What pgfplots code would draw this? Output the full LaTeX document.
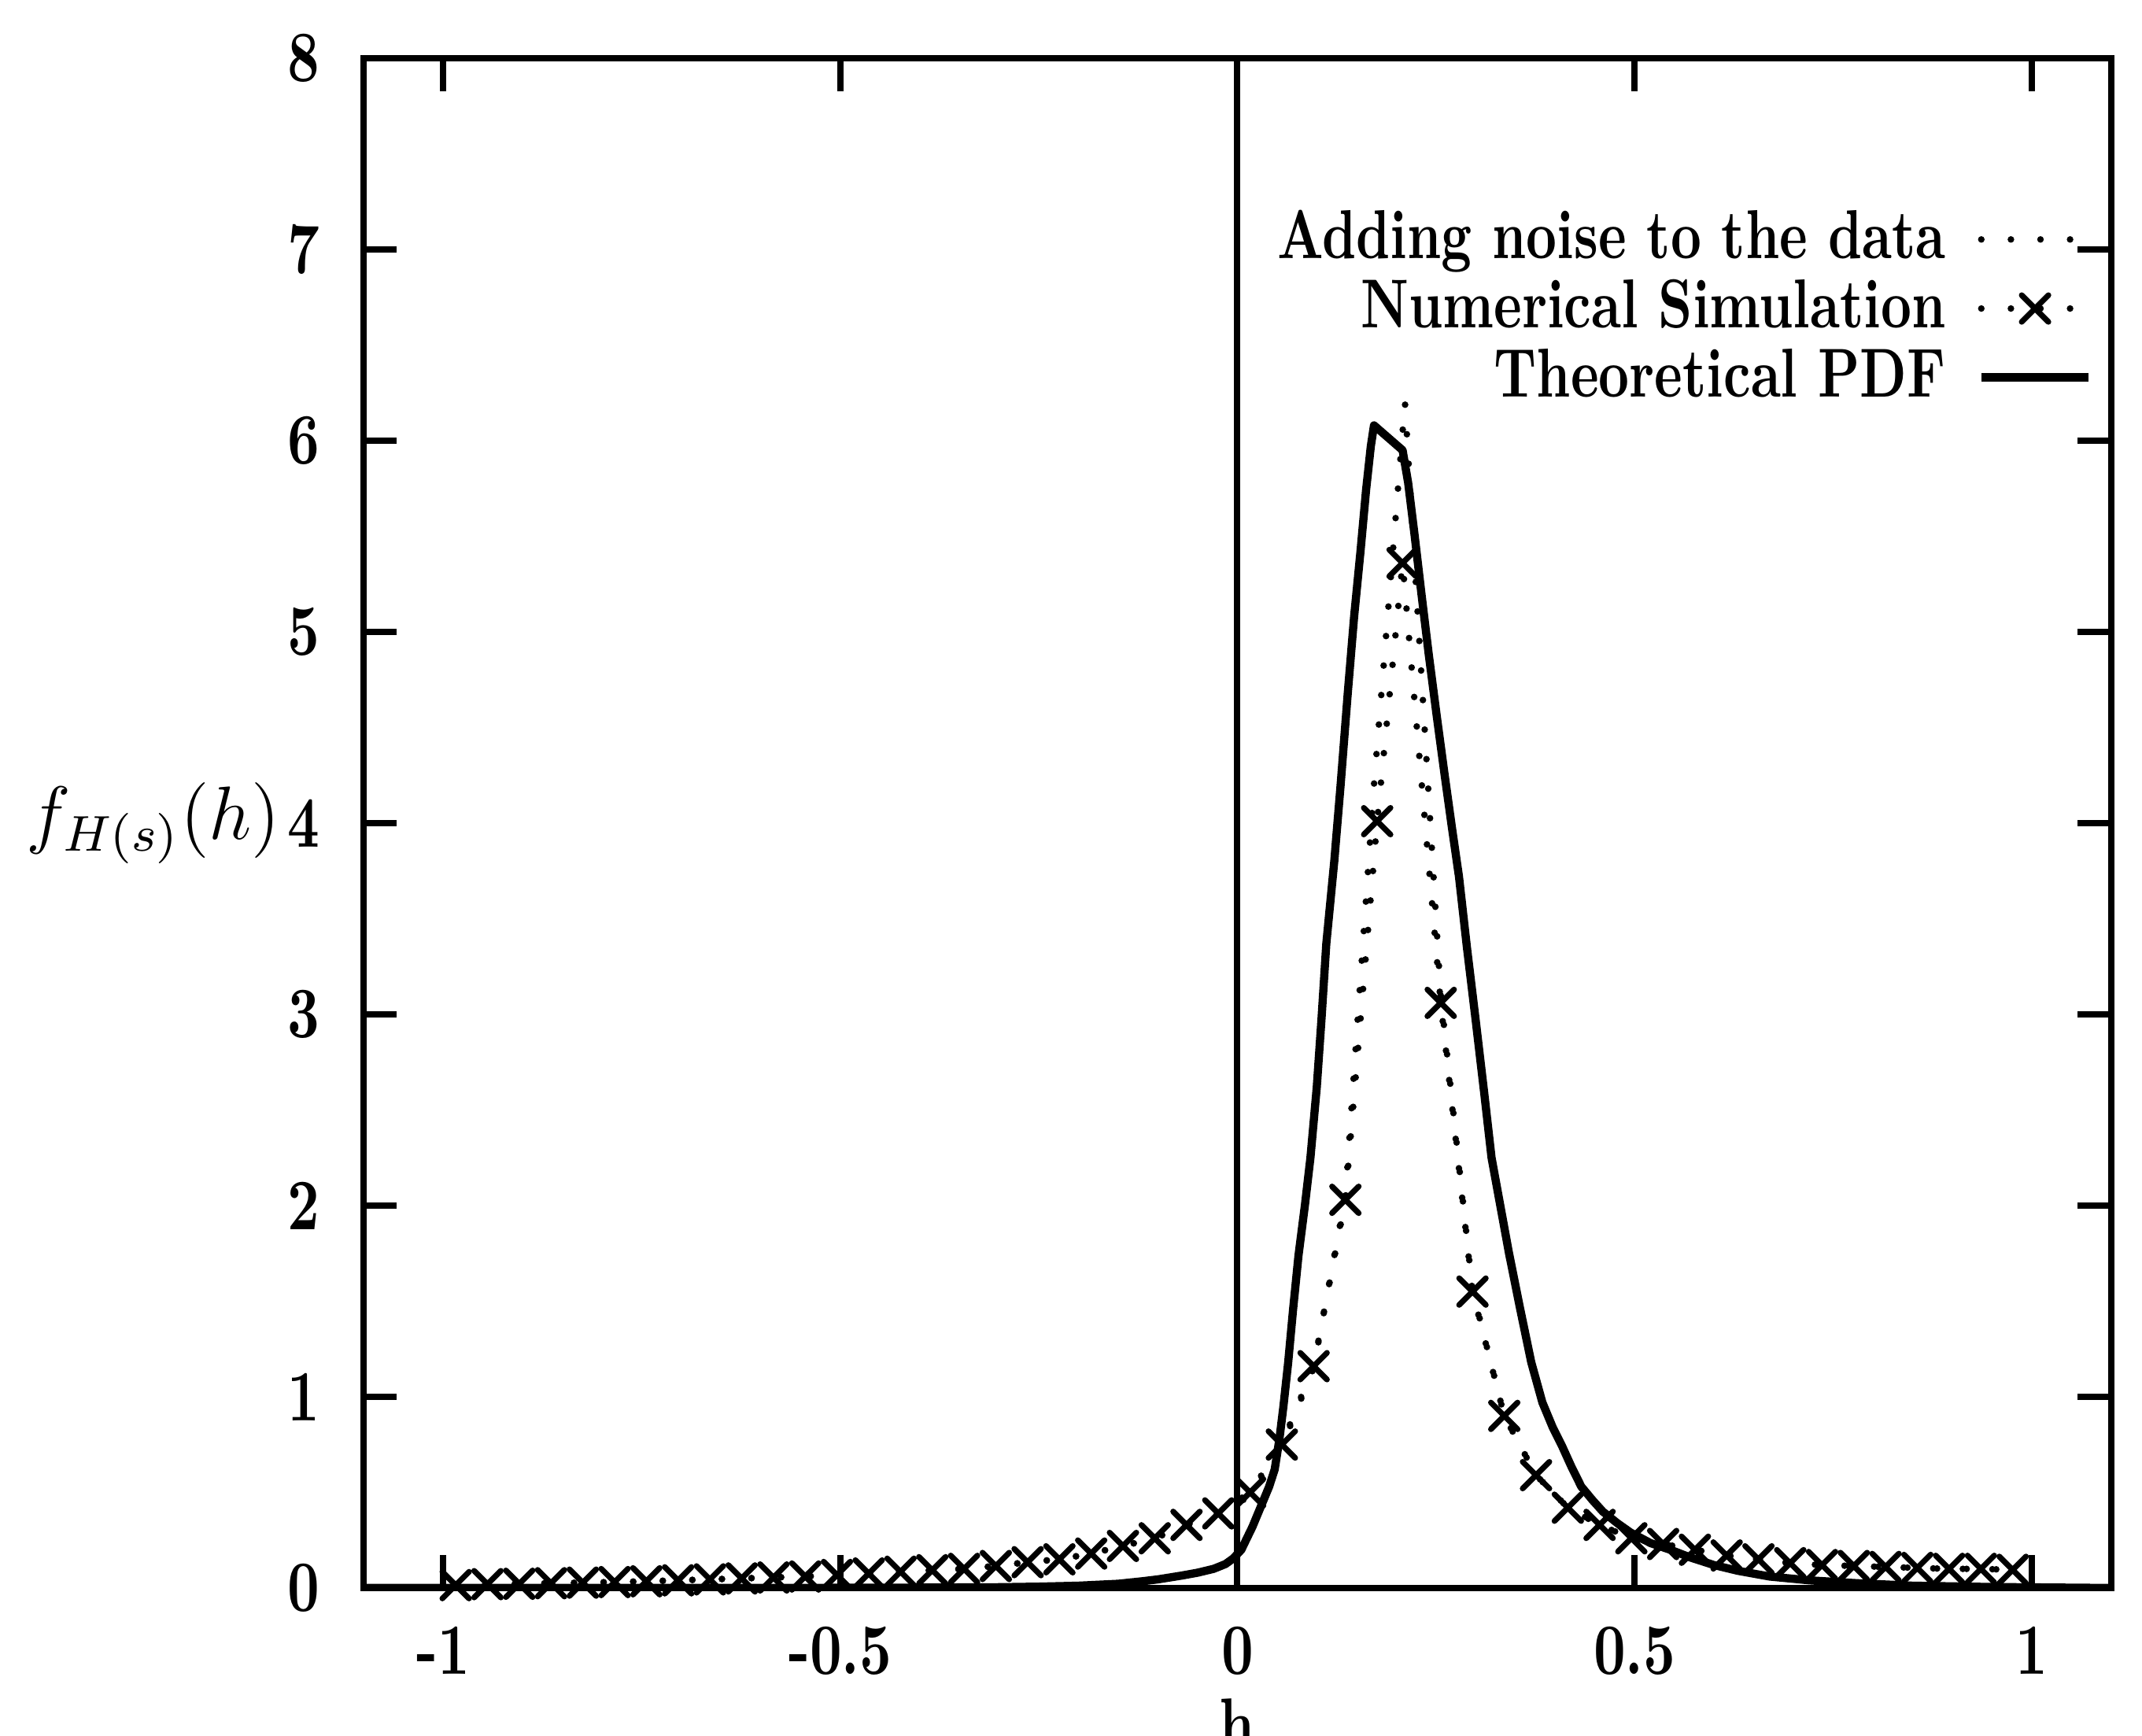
\documentclass[border=0pt]{standalone}
\usepackage{fontspec}
% Latin Modern, squeezed horizontally like the scanned original
\setmainfont{lmroman10}[Extension=.otf, UprightFont=*-regular, BoldFont=*-bold,
  ItalicFont=*-italic, BoldItalicFont=*-bolditalic, FakeStretch=0.77]
\usepackage{pgfplots}
\pgfplotsset{compat=1.18}
\usetikzlibrary{calc}
\newcommand{\lblfont}{\fontsize{11.5}{13}\bfseries\selectfont}
\newcommand{\legfont}{\fontsize{11}{13}\bfseries\selectfont}

\pgfplotstableread{
h v
-0.984 0.015
-0.944 0.020
-0.904 0.022
-0.864 0.025
-0.824 0.028
-0.784 0.031
-0.744 0.035
-0.704 0.040
-0.664 0.045
-0.624 0.050
-0.584 0.055
-0.544 0.060
-0.504 0.068
-0.464 0.076
-0.424 0.085
-0.384 0.093
-0.344 0.100
-0.304 0.115
-0.264 0.135
-0.224 0.150
-0.184 0.180
-0.144 0.220
-0.104 0.260
-0.064 0.330
-0.024 0.390
0.016 0.500
0.056 0.750
0.096 1.160
0.136 2.030
0.176 4.010
0.208 5.360
0.256 3.060
0.296 1.550
0.336 0.900
0.376 0.590
0.416 0.420
0.456 0.330
0.496 0.260
0.536 0.230
0.576 0.200
0.616 0.170
0.656 0.150
0.696 0.130
0.736 0.120
0.776 0.115
0.816 0.110
0.856 0.105
0.896 0.100
0.936 0.100
0.976 0.095
}\simtab

\pgfplotstableread{
h v
-0.984 0.015
-0.944 0.020
-0.904 0.022
-0.864 0.025
-0.824 0.028
-0.784 0.031
-0.744 0.035
-0.704 0.040
-0.664 0.045
-0.624 0.050
-0.584 0.055
-0.544 0.060
-0.504 0.068
-0.464 0.076
-0.424 0.085
-0.384 0.093
-0.344 0.100
-0.304 0.115
-0.264 0.135
-0.224 0.150
-0.184 0.180
-0.144 0.220
-0.104 0.260
-0.064 0.330
-0.024 0.390
0.016 0.480
0.056 0.740
0.096 1.150
0.136 2.050
0.172 4.200
0.211 6.200
0.256 3.100
0.296 1.560
0.336 0.900
0.376 0.590
0.416 0.420
0.456 0.330
0.496 0.260
0.536 0.230
0.576 0.200
0.616 0.170
0.656 0.150
0.696 0.130
0.736 0.120
0.776 0.115
0.816 0.110
0.856 0.105
0.896 0.100
0.936 0.100
0.976 0.095
}\noisetab

\pgfplotstableread{
h v
-1.1 0
-0.6 0.0
-0.4 0.002
-0.3 0.004
-0.25 0.007
-0.2 0.012
-0.15 0.022
-0.12 0.035
-0.10 0.045
-0.07 0.065
-0.05 0.08
-0.03 0.10
-0.015 0.125
-0.005 0.155
0.005 0.20
0.012 0.26
0.019 0.32
0.026 0.39
0.033 0.46
0.040 0.53
0.047 0.62
0.053 0.78
0.058 0.95
0.064 1.18
0.070 1.45
0.077 1.74
0.085 2.0
0.092 2.25
0.100 2.62
0.106 2.98
0.112 3.37
0.122 3.8
0.130 4.2
0.139 4.68
0.147 5.08
0.155 5.42
0.162 5.74
0.168 5.97
0.172 6.08
0.208 5.95
0.215 5.78
0.223 5.51
0.232 5.19
0.241 4.88
0.251 4.56
0.261 4.25
0.270 3.98
0.279 3.72
0.289 3.35
0.300 2.97
0.311 2.58
0.320 2.25
0.331 2.0
0.342 1.75
0.356 1.46
0.370 1.18
0.384 0.97
0.397 0.84
0.409 0.74
0.421 0.63
0.433 0.53
0.447 0.46
0.460 0.40
0.478 0.34
0.495 0.29
0.52 0.235
0.545 0.2
0.57 0.16
0.60 0.12
0.63 0.09
0.67 0.06
0.72 0.04
0.78 0.025
0.85 0.012
0.95 0.005
1.1 0
}\theotab

\begin{document}
\begin{tikzpicture}
\begin{axis}[name=ax, scale only axis, width=277.6pt, height=243pt,
  xmin=-1.1, xmax=1.1, ymin=0, ymax=8,
  xtick={-1,-0.5,0,0.5,1},
  xticklabels={-1,-0.5,0,0.5,1},
  ytick={0,1,2,3,4,5,6,7,8},
  yticklabels={0,1,2,3,4,5,6,7,8},
  tick align=inside, major tick length=5.3pt,
  axis line style={line width=1pt},
  tick style={line width=1pt, black},
  tick label style={font=\lblfont, inner sep=0pt},
  xticklabel shift=6pt, yticklabel shift=6.75pt,
  xlabel={h},
  xlabel style={at={(axis description cs:0.5,0)}, anchor=north, yshift=-17.4pt,
    inner sep=0pt, font=\lblfont},
  ylabel={$f_{H(s)}(h)$},
  ylabel style={rotate=-90, at={(axis description cs:0,0.5)}, anchor=east,
    xshift=-13pt, inner sep=0pt, font=\fontsize{12}{14}\selectfont},
  legend cell align=right, legend plot pos=right,
  legend style={draw=none, fill=none, at={(1,1)}, anchor=north east,
    xshift=-2.7pt, yshift=-22pt, font=\legfont, inner sep=0pt,
    row sep=-2.2pt, column sep=3pt},
]
\addplot[black, line width=1.05pt, line cap=round, dash pattern=on 0pt off 4.7pt]
  table[x=h, y=v] {\noisetab};
\addlegendentry{Adding noise to the data}
\addplot[black, line width=1.05pt, line cap=round, dash pattern=on 0pt off 4.7pt,
  mark=x, mark size=3pt, mark options={solid, line width=0.9pt}]
  table[x=h, y=v] {\simtab};
\addlegendentry{Numerical Simulation}
\addplot[black, line width=1.3pt, line join=round] table[x=h, y=v] {\theotab};
\addlegendentry{Theoretical PDF}
\addplot[black, line width=1pt, forget plot] coordinates {(0,0) (0,8)};
\end{axis}
\pgfresetboundingbox
\path[use as bounding box] ($(ax.south west)+(-57.75pt,-23.4pt)$) rectangle
  ($(ax.north east)+(4.9pt,9.25pt)$);
\end{tikzpicture}
\end{document}
